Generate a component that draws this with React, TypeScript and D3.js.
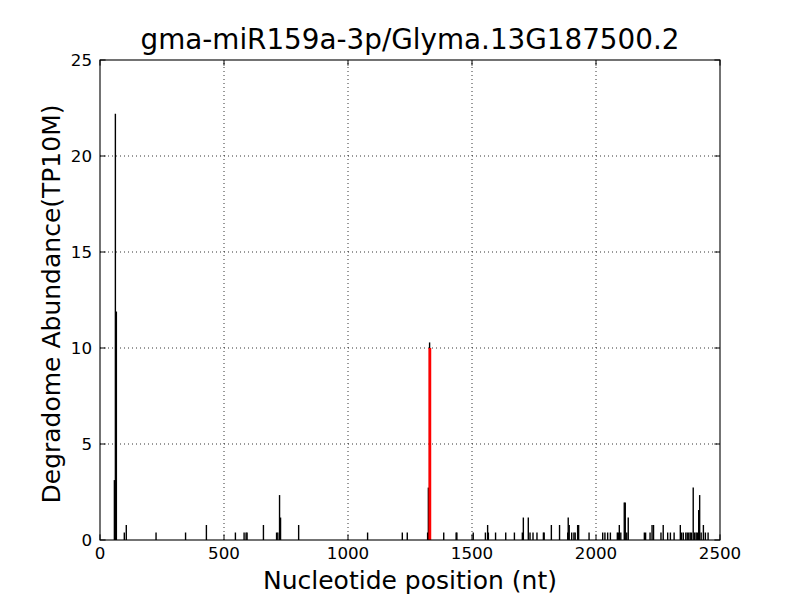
import React from 'react';
import { scaleLinear, range } from 'd3';

const title = 'gma-miR159a-3p/Glyma.13G187500.2';
const xLabel = 'Nucleotide position (nt)';
const yLabel = 'Degradome Abundance(TP10M)';

const xTicks = [0, 500, 1000, 1500, 2000, 2500];
const yTicks = [0, 5, 10, 15, 20, 25];

// degradome tags: position (nt) and abundance (TP10M)
const positions = [
  58, 62, 66, 98, 106, 226, 345, 429, 546, 581, 589, 593, 659, 712, 717, 724,
  728, 801, 1079, 1219, 1239, 1321, 1324, 1329, 1386, 1436, 1439, 1505, 1554,
  1563, 1566, 1595, 1636, 1671, 1703, 1707, 1727, 1734, 1746, 1762, 1788, 1791,
  1820, 1853, 1886, 1888, 1892, 1902, 1911, 1916, 1926, 1930, 1972, 2027, 2036,
  2047, 2058, 2086, 2090, 2094, 2100, 2114, 2118, 2124, 2130, 2195, 2200, 2218,
  2226, 2232, 2262, 2271, 2289, 2300, 2315, 2340, 2345, 2352, 2362, 2368, 2374,
  2380, 2385, 2392, 2398, 2404, 2409, 2414, 2418, 2424, 2433, 2441, 2452,
];
const abundances = [
  3.12, 22.2, 11.9, 0.39, 0.78, 0.39, 0.39, 0.78, 0.39, 0.39, 0.39, 0.39, 0.78,
  0.39, 0.39, 2.34, 1.17, 0.78, 0.39, 0.39, 0.39, 0.39, 2.73, 10.29, 0.39, 0.39,
  0.39, 0.39, 0.39, 0.78, 0.39, 0.39, 0.39, 0.39, 0.39, 1.17, 1.17, 0.39, 0.39,
  0.39, 0.39, 0.39, 0.78, 0.78, 0.39, 1.17, 0.78, 0.39, 0.39, 0.39, 0.78, 0.78,
  0.39, 0.39, 0.39, 0.39, 0.39, 0.39, 0.39, 0.78, 0.39, 1.95, 1.95, 0.39, 1.17,
  0.39, 0.39, 0.39, 0.78, 0.78, 0.39, 0.78, 0.39, 0.39, 0.39, 0.78, 0.39, 0.39,
  0.39, 0.39, 0.39, 0.39, 0.39, 2.73, 0.39, 0.39, 0.39, 1.56, 2.34, 0.39, 0.78,
  0.39, 0.39,
];

// predicted cleavage site
const sitePositions = [1330];
const siteAbundances = [10.0];

const W = 800;
const H = 600;
const margin = { left: 100, right: 80, top: 60, bottom: 60 };
const font = '"DejaVu Sans", sans-serif';
const tickLen = 5.6;

const App: React.FC = () => {
  const x = scaleLinear().domain([0, 2500]).range([margin.left, W - margin.right]);
  const y = scaleLinear().domain([0, 25]).range([H - margin.bottom, margin.top]);
  const [x0, x1] = x.range();
  const [y0, y1] = y.range();

  return (
    <svg width={W} height={H} style={{ position: 'absolute', left: 0, top: 0, background: '#fff' }}>
      <rect x={0} y={0} width={W} height={H} fill="#fff" />

      {/* Grid */}
      {xTicks.slice(1, -1).map((t) => (
        <line key={'gx' + t} x1={x(t)} x2={x(t)} y1={y0} y2={y1}
          stroke="#000" strokeWidth={0.8} strokeDasharray="1,3" />
      ))}
      {yTicks.slice(1, -1).map((t) => (
        <line key={'gy' + t} x1={x0} x2={x1} y1={y(t)} y2={y(t)}
          stroke="#000" strokeWidth={0.8} strokeDasharray="1,3" />
      ))}

      {/* Marks */}
      {range(positions.length).map((i) => (
        <line key={'s' + i} x1={x(positions[i])} x2={x(positions[i])}
          y1={y(0)} y2={y(abundances[i])} stroke="#000" strokeWidth={1.4} />
      ))}
      {range(sitePositions.length).map((i) => (
        <line key={'r' + i} x1={x(sitePositions[i])} x2={x(sitePositions[i])}
          y1={y(0)} y2={y(siteAbundances[i])} stroke="#ff0000" strokeWidth={2.8} />
      ))}

      {/* Frame */}
      <rect x={x0} y={y1} width={x1 - x0} height={y0 - y1} fill="none" stroke="#000" strokeWidth={1.1} />

      {/* Ticks */}
      {xTicks.map((t) => (
        <g key={'tx' + t}>
          <line x1={x(t)} x2={x(t)} y1={y0} y2={y0 - tickLen} stroke="#000" strokeWidth={1} />
          <line x1={x(t)} x2={x(t)} y1={y1} y2={y1 + tickLen} stroke="#000" strokeWidth={1} />
          <text x={x(t)} y={y0 + 19} textAnchor="middle" fontFamily={font} fontSize={16.7}>{t}</text>
        </g>
      ))}
      {yTicks.map((t) => (
        <g key={'ty' + t}>
          <line x1={x0} x2={x0 + tickLen} y1={y(t)} y2={y(t)} stroke="#000" strokeWidth={1} />
          <line x1={x1} x2={x1 - tickLen} y1={y(t)} y2={y(t)} stroke="#000" strokeWidth={1} />
          <text x={x0 - 8} y={y(t)} dy="0.36em" textAnchor="end" fontFamily={font} fontSize={16.7}>{t}</text>
        </g>
      ))}

      {/* Labels */}
      <text x={(x0 + x1) / 2} y={49} textAnchor="middle" fontFamily={font} fontSize={27.8}>{title}</text>
      <text x={(x0 + x1) / 2} y={589} textAnchor="middle" fontFamily={font} fontSize={25}>{xLabel}</text>
      <text transform={`translate(60, ${(y0 + y1) / 2 + 4}) rotate(-90)`} textAnchor="middle"
        fontFamily={font} fontSize={25}>{yLabel}</text>
    </svg>
  );
};

export default App;
